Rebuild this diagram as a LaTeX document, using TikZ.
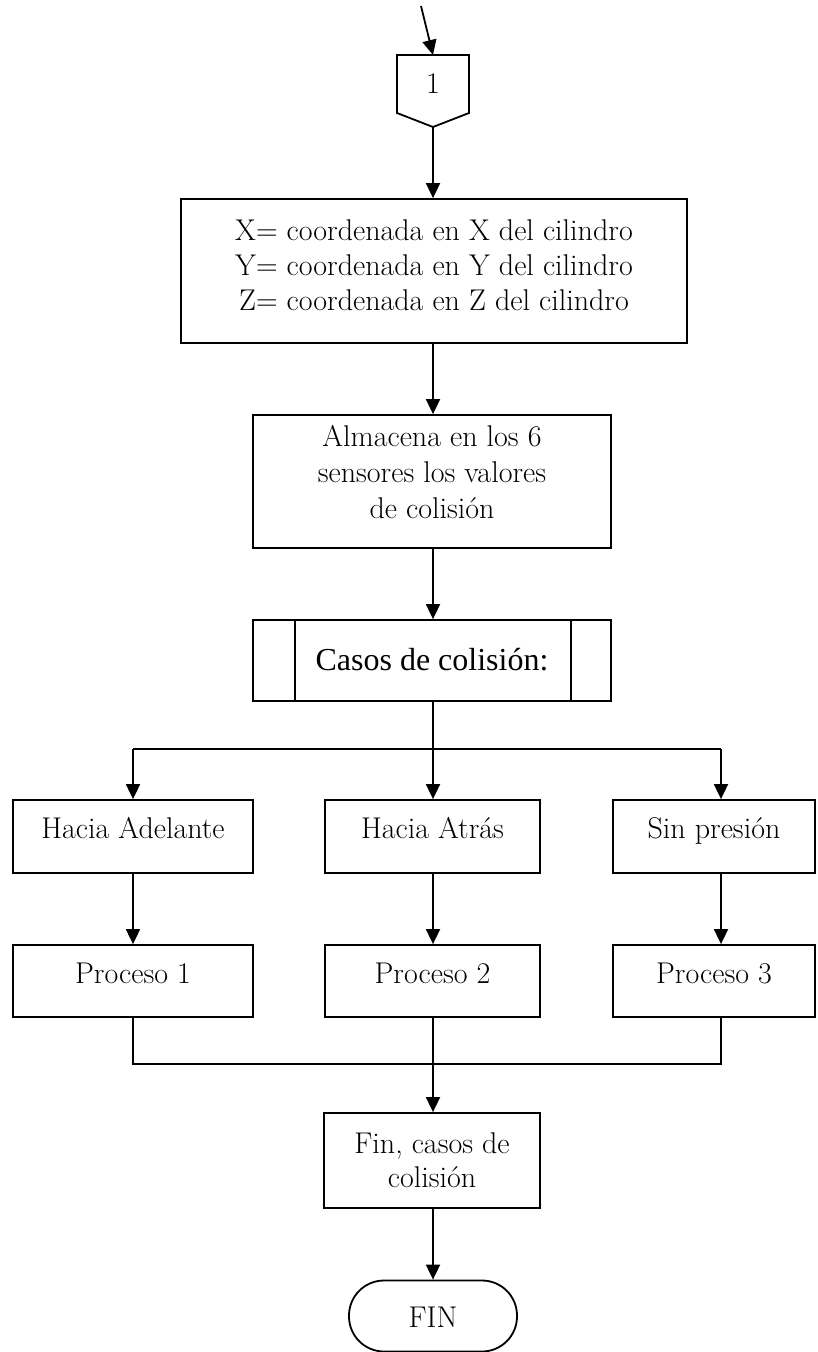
\documentclass[tikz,border=0pt]{standalone}
\usepackage{fontspec}
\newfontfamily\timesf{Liberation Serif}
\usetikzlibrary{arrows.meta}
\begin{document}
\begin{tikzpicture}[x=1pt,y=-1pt,line width=1.8pt,
  box/.style={draw,line width=1.8pt,minimum width=#1,align=center,inner sep=0pt,
    font=\fontsize{30}{35}\selectfont},
  txt/.style={inner sep=0pt,anchor=base,font=\fontsize{30}{35}\selectfont},
  arr/.style={-{Triangle[length=15pt,width=14pt]}}]
\useasboundingbox (0,0) rectangle (817,1352);
% off-page connector
\draw (397,55) -- (469,55) -- (469,113) -- (433,127) -- (397,113) -- cycle;
\node[txt] (one) at (433,93) {1};
\coordinate (start) at (421,6);
\coordinate (ctop) at (433,55);
\coordinate (cbot) at (433,127);
% process box 1
\node[box=506pt,minimum height=144pt] (b1) at (434,271) {};
\node[txt] (b1a) at (434,240) {X= coordenada en X del cilindro};
\node[txt] (b1b) at (434,275) {Y= coordenada en Y del cilindro};
\node[txt] (b1c) at (434,310) {Z= coordenada en Z del cilindro};
% process box 2
\node[box=358pt,minimum height=133pt] (b2) at (432,481.5) {};
\node[txt] (b2a) at (432,446) {Almacena en los 6};
\node[txt] (b2b) at (432,482) {sensores los valores};
\node[txt] (b2c) at (432,518) {de colisi\'on};
% predefined process
\node[box=358pt,minimum height=81pt,text height=22pt,text depth=3pt,
  font=\timesf\fontsize{32}{36}\selectfont] (sub) at (432,660.5) {Casos de colisi\'on:};
\draw ([xshift=43pt]sub.north west) -- ([xshift=43pt]sub.south west);
\draw ([xshift=-41pt]sub.north east) -- ([xshift=-41pt]sub.south east);
% cases
\node[box=240pt,minimum height=73pt,text height=20pt,text depth=17pt] (h1) at (133,836.5) {Hacia Adelante};
\node[box=215pt,minimum height=73pt,text height=20pt,text depth=17pt] (h2) at (432.5,836.5) {Hacia Atr\'as};
\node[box=202pt,minimum height=73pt,text height=20pt,text depth=17pt] (h3) at (714,836.5) {Sin presi\'on};
\node[box=240pt,minimum height=72pt,text height=20pt,text depth=16pt] (p1) at (133,981) {Proceso 1};
\node[box=215pt,minimum height=72pt,text height=20pt,text depth=16pt] (p2) at (432.5,981) {Proceso 2};
\node[box=202pt,minimum height=72pt,text height=20pt,text depth=16pt] (p3) at (714,981) {Proceso 3};
% end of cases
\node[box=216pt,minimum height=95pt] (f1) at (432,1160.5) {};
\node[txt] (f1a) at (432,1153) {Fin, casos de};
\node[txt] (f1b) at (432,1187) {colisi\'on};
% terminal
\node[box=168pt,minimum height=71pt,rounded corners=35pt] (fin) at (433,1316) {};
\node[txt] (fint) at (433,1327) {FIN};
% connectors
\coordinate (jl) at (133,749);
\coordinate (jn) at (433,749);
\coordinate (jr) at (721,749);
\coordinate (ml) at (133,1064);
\coordinate (mm) at (433,1064);
\coordinate (mr) at (721,1064);
\draw[arr] (start) -- (ctop);
\draw[arr] (cbot) -- (cbot |- b1.north);
\draw[arr] (b1.south -| cbot) -- (b2.north -| cbot);
\draw[arr] (b2.south -| cbot) -- (sub.north -| cbot);
\draw (sub.south -| jn) -- (jn);
\draw (jl) -- (jr);
\draw[arr] (jl) -- (h1);
\draw[arr] (jn) -- (jn |- h2.north);
\draw[arr] (jr) -- (jr |- h3.north);
\draw[arr] (h1) -- (p1);
\draw[arr] (h2.south -| jn) -- (p2.north -| jn);
\draw[arr] (h3.south -| jr) -- (p3.north -| jr);
\draw (p1) -- (ml) -- (mr) -- (mr |- p3.south);
\draw (p2.south -| mm) -- (mm);
\draw[arr] (mm) -- (mm |- f1.north);
\draw[arr] (f1.south -| fin) -- (fin);
\end{tikzpicture}
\end{document}
